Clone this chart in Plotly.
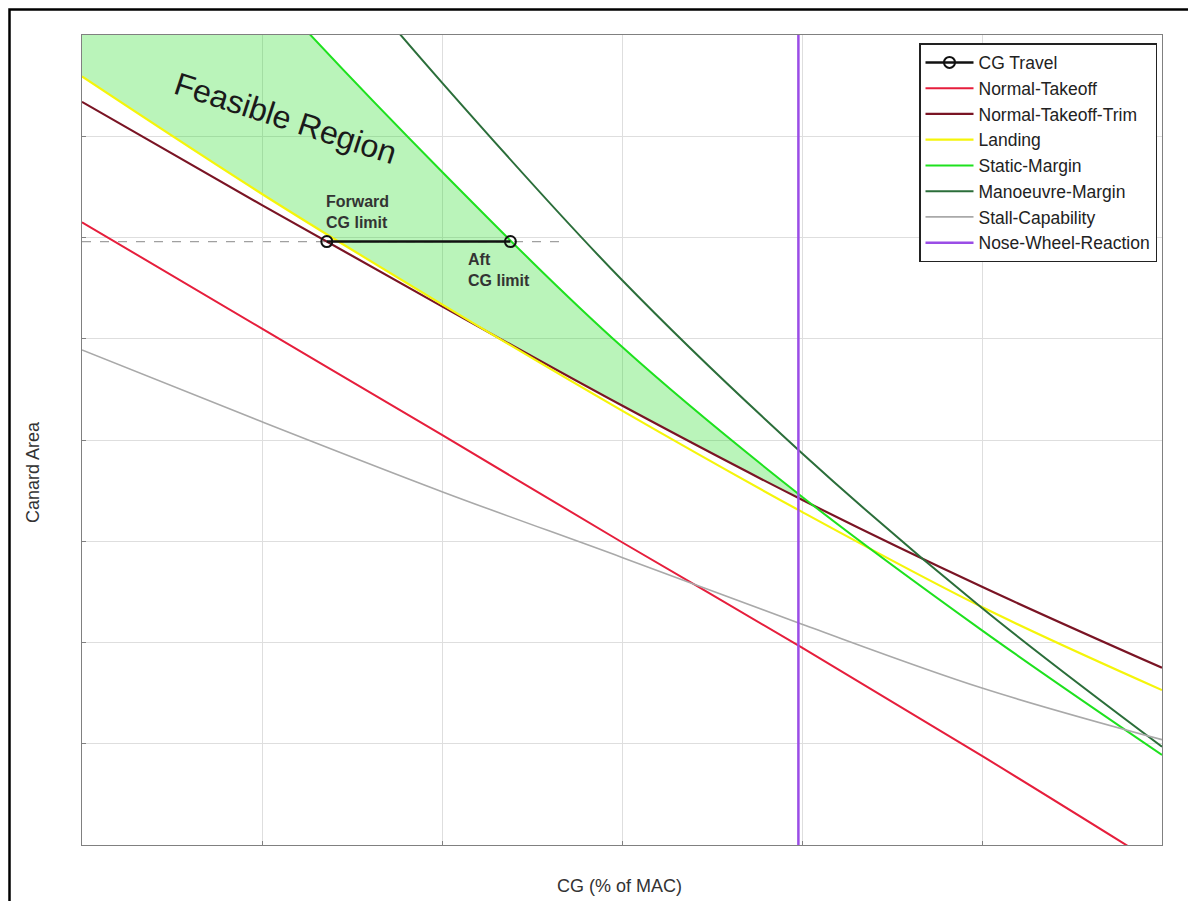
import numpy as np
import plotly.graph_objects as go

# ---------------- data ----------------
x_pts = [0, 10, 20, 30, 40, 50, 60]                     # CG (% of MAC)
normal_takeoff = [6.15, 5.10, 4.05, 2.99, 1.95, 0.88, -0.22]
normal_takeoff_trim = [7.34, 6.32, 5.32, 4.34, 3.41, 2.55, 1.75]
landing = [7.59, 6.43, 5.34, 4.29, 3.29, 2.35, 1.53]
static_margin = [10.57, 8.52, 6.65, 4.92, 3.44, 2.12, 0.89]
manoeuvre_x = [10, 20, 30, 40, 50, 60]
manoeuvre_margin = [9.62, 7.53, 5.58, 3.87, 2.34, 0.97]
stall_capability = [4.89, 4.18, 3.49, 2.84, 2.18, 1.55, 1.04]
nose_wheel_x = 39.8
cg_travel_x = [13.6, 23.8]
cg_travel_y = [5.96, 5.96]
x_range = [0, 60]
y_range = [0, 8]

FONT = "Arial, Liberation Sans, sans-serif"

# reference-pixel -> paper coordinate helpers (plot area 1080 x 810 px)
PLOT_L, PLOT_B, PLOT_W, PLOT_H = 82, 845, 1080, 810


def px(xpix):
    return (xpix - PLOT_L) / PLOT_W


def py(ypix):
    return (PLOT_B - ypix) / PLOT_H


# ---------------- feasible region (between static margin and max(landing, trim)) ----
xp = np.array(x_pts, dtype=float)
lower = np.maximum(np.array(landing), np.array(normal_takeoff_trim))
upper = np.array(static_margin)
diff = upper - lower
j = int(np.where(diff < 0)[0][0])
t = diff[j - 1] / (diff[j - 1] - diff[j])
x_int = xp[j - 1] + t * (xp[j] - xp[j - 1])
y_int = lower[j - 1] + t * (lower[j] - lower[j - 1])
fill_x = list(xp[:j]) + [x_int]
fill_lower = list(lower[:j]) + [y_int]
fill_upper = list(upper[:j]) + [y_int]

fig = go.Figure()
fig.add_trace(go.Scatter(x=fill_x, y=fill_lower, mode="lines",
                         line=dict(width=0, shape="spline", smoothing=0.8), showlegend=False,
                         hoverinfo="skip"))
fig.add_trace(go.Scatter(x=fill_x, y=fill_upper, mode="lines", fill="tonexty",
                         fillcolor="rgba(40,220,40,0.32)",
                         line=dict(width=0, shape="spline", smoothing=0.8), showlegend=False,
                         hoverinfo="skip"))

curves = [
    ("Normal-Takeoff", x_pts, normal_takeoff, "#e61e3c", 2),
    ("Normal-Takeoff-Trim", x_pts, normal_takeoff_trim, "#7a1424", 2.2),
    ("Landing", x_pts, landing, "#f5f50a", 2.2),
    ("Static-Margin", x_pts, static_margin, "#1ee11e", 2),
    ("Manoeuvre-Margin", manoeuvre_x, manoeuvre_margin, "#2b6e3a", 2),
    ("Stall-Capability", x_pts, stall_capability, "#a9a9a9", 1.6),
]
for i, (name, xs, ys, col, w) in enumerate(curves):
    fig.add_trace(go.Scatter(x=xs, y=ys, mode="lines", name=name,
                             line=dict(color=col, width=w, shape="spline", smoothing=1.0),
                             legendgroup=name, legendrank=2 + i))

fig.add_trace(go.Scatter(x=[nose_wheel_x, nose_wheel_x], y=y_range, mode="lines",
                         name="Nose-Wheel-Reaction",
                         line=dict(color="#9a4de6", width=2.5),
                         legendgroup="nw", legendrank=8))

# dashed reference line at the CG travel level
fig.add_shape(type="line", x0=x_range[0], x1=26.7, y0=cg_travel_y[0], y1=cg_travel_y[0],
              xref="x", yref="y", line=dict(color="#a0a0a0", width=1.2, dash="dash"),
              layer="below")

fig.add_trace(go.Scatter(x=cg_travel_x, y=cg_travel_y, mode="lines+markers",
                         name="CG Travel",
                         line=dict(color="#111111", width=2.5),
                         marker=dict(symbol="circle-open", size=11, color="#111111",
                                     line=dict(width=2)),
                         legendgroup="cg", legendrank=1))

# ---------------- annotations ----------------
fig.add_annotation(x=px(285), y=py(118), xref="paper", yref="paper", text="Feasible Region",
                   showarrow=False, textangle=18, xanchor="center", yanchor="middle",
                   font=dict(family=FONT, size=32, color="#1a1a1a"))
fig.add_annotation(x=px(324), y=py(212), xref="paper", yref="paper",
                   text="<b>Forward<br>CG limit</b>", showarrow=False, align="left",
                   xanchor="left", yanchor="middle",
                   font=dict(family=FONT, size=16, color="#333333"))
fig.add_annotation(x=px(466), y=py(270), xref="paper", yref="paper",
                   text="<b>Aft<br>CG limit</b>", showarrow=False, align="left",
                   xanchor="left", yanchor="middle",
                   font=dict(family=FONT, size=16, color="#333333"))
fig.add_annotation(x=px(619), y=py(886), xref="paper", yref="paper",
                   text="CG (% of MAC)", showarrow=False, xanchor="center", yanchor="middle",
                   font=dict(family=FONT, size=18, color="#333333"))
fig.add_annotation(x=px(33), y=py(472), xref="paper", yref="paper",
                   text="Canard Area", showarrow=False, textangle=-90,
                   xanchor="center", yanchor="middle",
                   font=dict(family=FONT, size=18, color="#333333"))

# outer black frame
fig.add_shape(type="rect", xref="paper", yref="paper",
              x0=px(9.5), x1=px(1192), y0=py(930), y1=py(9.5),
              line=dict(color="black", width=2.5), fillcolor="rgba(0,0,0,0)")

axis_common = dict(showgrid=True, gridcolor="#dedede", gridwidth=1,
                   showline=True, linecolor="#808080", linewidth=1.2, mirror=True,
                   ticks="inside", ticklen=4, tickcolor="#808080",
                   showticklabels=False, zeroline=False)
fig.update_xaxes(range=x_range, dtick=10, **axis_common)
fig.update_yaxes(range=y_range, dtick=1, **axis_common)

# the page adds an 8 px body margin, so the figure is 8 px smaller and shifted
fig.update_layout(
    width=1188, height=893,
    margin=dict(l=PLOT_L - 8, r=34, t=35 - 8, b=56),
    paper_bgcolor="white", plot_bgcolor="white",
    font=dict(family=FONT, size=17.5, color="#222222"),
    showlegend=True,
    legend=dict(x=px(1157), y=py(43), xanchor="right", yanchor="top",
                bgcolor="white", bordercolor="#222222", borderwidth=1.5,
                font=dict(family=FONT, size=17.5, color="#222222"),
                traceorder="grouped", tracegroupgap=0, itemwidth=48),
)

fig.write_html("out.html")
